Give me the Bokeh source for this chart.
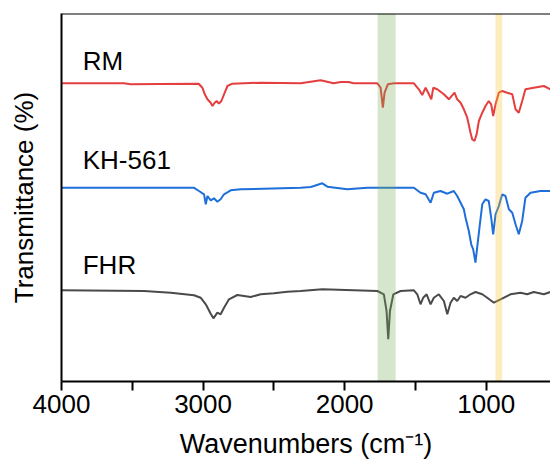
from bokeh.plotting import figure
from bokeh.models import Range1d, FixedTicker, Span
from bokeh.embed import file_html
from bokeh.resources import INLINE
from bokeh.core.properties import value

# ---- data (wavenumber, transmittance in arbitrary offset units) ----
rm_wn = [4000, 3560, 3511, 3300, 3031, 3005, 2988, 2969, 2946, 2934, 2918, 2904, 2888, 2871, 2852,
         2828, 2793, 2593, 2311, 2170, 2078, 2028, 1972, 1937, 1769, 1746, 1730, 1718, 1695, 1652,
         1511, 1476, 1452, 1428, 1405, 1388, 1374, 1346, 1299, 1264, 1224, 1205, 1181, 1158, 1134,
         1111, 1099, 1083, 1068, 1052, 1028, 1005, 982, 965, 951, 934, 911, 887, 852, 816, 793,
         770, 746, 723, 664, 593, 546]
rm_t = [298.2, 298.2, 297.3, 297.5, 297.8, 293.8, 287.2, 282.2, 278.8, 275.5, 278.8, 280.5, 277.8, 280.5, 287.2,
        295.5, 297.8, 298.8, 298.2, 301.2, 298.2, 299.5, 299.5, 298.2, 298.2, 293.8, 273.8, 288.8, 297.2, 298.2,
        298.2, 292.2, 286.5, 293.8, 287.2, 282.2, 293.8, 292.2, 287.2, 282.2, 288.8, 282.2, 278.8, 272.2, 263.8,
        248.8, 242.2, 240.5, 247.2, 260.5, 268.8, 275.5, 280.5, 277.2, 265.5, 277.2, 288.8, 290.5, 288.8, 287.2, 272.2,
        268.8, 280.5, 292.2, 293.8, 295.5, 292.2]

kh_wn = [4000, 3066, 3029, 2993, 2981, 2969, 2946, 2923, 2899, 2876, 2852, 2805, 2734, 2311, 2240,
         2217, 2158, 2122, 1981, 1840, 1511, 1464, 1428, 1393, 1370, 1323, 1275, 1229, 1205, 1181,
         1158, 1146, 1123, 1106, 1092, 1076, 1064, 1045, 1028, 1005, 982, 965, 951, 934, 911, 887,
         864, 840, 816, 793, 770, 746, 723, 687, 617, 546]
kh_t = [193.8, 193.8, 190.5, 187.2, 177.2, 185.5, 181.2, 183.2, 179.8, 182.2, 187.2, 191.2, 192.2, 193.8, 194.5,
        195.5, 198.2, 194.8, 192.2, 193.8, 193.8, 188.8, 187.2, 178.8, 188.8, 190.5, 187.8, 190.5, 185.5, 178.8,
        172.2, 163.8, 150.5, 137.2, 132.2, 118.8, 133.8, 157.2, 177.2, 182.2, 180.5, 163.8, 147.2, 167.2, 175.5, 187.2,
        185.5, 172.2, 168.8, 157.2, 147.2, 160.5, 183.8, 188.8, 190.5, 190.5]

fhr_wn = [4000, 3417, 3228, 3064, 3017, 2981, 2946, 2927, 2899, 2876, 2852, 2817, 2758, 2664, 2593,
          2499, 2405, 2311, 2158, 1769, 1723, 1704, 1692, 1680, 1656, 1605, 1511, 1487, 1464, 1445,
          1421, 1393, 1370, 1335, 1299, 1275, 1252, 1229, 1205, 1181, 1146, 1111, 1076, 1028, 993,
          946, 899, 829, 758, 711, 664, 593, 546]
fhr_t = [91.2, 90.5, 88.8, 86.2, 83.8, 77.2, 67.8, 63.2, 68.8, 67.2, 73.8, 82.2, 86.5, 84.5, 87.2,
         88.2, 89.8, 90.5, 92.2, 90.5, 87.2, 70.5, 42.2, 70.5, 87.2, 90.5, 91.2, 87.2, 77.2, 83.8,
         87.2, 77.2, 83.8, 87.2, 80.5, 67.2, 78.8, 83.8, 80.5, 85.5, 83.8, 87.2, 89.5, 87.2, 83.8,
         78.8, 82.2, 87.2, 88.8, 87.2, 89.5, 87.2, 89.5]

series_names = ["RM", "KH-561", "FHR"]
label_wn = [3850, 3850, 3850]
label_t = [320.5, 222.0, 117.0]

band_hi = [1767, 935]
band_lo = [1640, 887]

x_ticks = [4000, 3500, 3000, 2500, 2000, 1500, 1000]
x_tick_labels = {4000: "4000", 3500: "", 3000: "3000", 2500: "", 2000: "2000", 1500: "", 1000: "1000"}

FONT = "Liberation Sans"

p = figure(width=550, height=461, output_backend="svg", toolbar_location=None,
           x_range=Range1d(4000, 546), y_range=Range1d(0, 368),
           min_border_left=61, min_border_right=0, min_border_top=13, min_border_bottom=80)
p.outline_line_color = None
p.xgrid.visible = False
p.ygrid.visible = False
p.background_fill_color = "white"
p.border_fill_color = "white"

colors = ["#E53E3E", "#1E6FD9", "#4A4A4A"]
for wn, t, c in zip([rm_wn, kh_wn, fhr_wn], [rm_t, kh_t, fhr_t], colors):
    p.line(wn, t, line_color=c, line_width=2)

p.quad(left=band_hi[0:1], right=band_lo[0:1], bottom=[0], top=[368],
       fill_color="#76AC55", fill_alpha=0.3, line_color=None)
p.quad(left=band_hi[1:2], right=band_lo[1:2], bottom=[0], top=[368],
       fill_color="#F8C026", fill_alpha=0.3, line_color=None)

p.text(x=label_wn, y=label_t, text=series_names, text_font=value(FONT),
       text_font_size="26px", text_align="left", text_baseline="alphabetic", text_color="black")

# x axis
xa = p.xaxis[0]
xa.ticker = FixedTicker(ticks=x_ticks)
xa.major_label_overrides = x_tick_labels
xa.minor_tick_line_color = None
xa.major_tick_out = 9
xa.major_tick_in = 0
xa.major_tick_line_width = 2
xa.axis_line_width = 2
xa.major_tick_line_color = "black"
xa.axis_line_color = "black"
xa.major_label_text_font = FONT
xa.major_label_text_font_size = "26px"
xa.major_label_text_color = "black"
xa.major_label_standoff = 4
xa.axis_label = "Wavenumbers (cm⁻¹)"
xa.axis_label_text_font = FONT
xa.axis_label_text_font_size = "27px"
xa.axis_label_text_font_style = "normal"
xa.axis_label_text_color = "black"
xa.axis_label_standoff = 13

# y axis
ya = p.yaxis[0]
ya.ticker = FixedTicker(ticks=[])
ya.minor_tick_line_color = None
ya.major_tick_line_color = None
ya.axis_line_width = 2
ya.axis_line_color = "black"
ya.axis_label = "Transmittance (%)"
ya.axis_label_text_font = FONT
ya.axis_label_text_font_size = "26px"
ya.axis_label_text_font_style = "normal"
ya.axis_label_text_color = "black"
ya.axis_label_standoff = 23

top_border = Span(location=368, dimension="width", line_color="black", line_width=2)
p.add_layout(top_border)

open("out.html", "w").write(file_html(p, INLINE))
